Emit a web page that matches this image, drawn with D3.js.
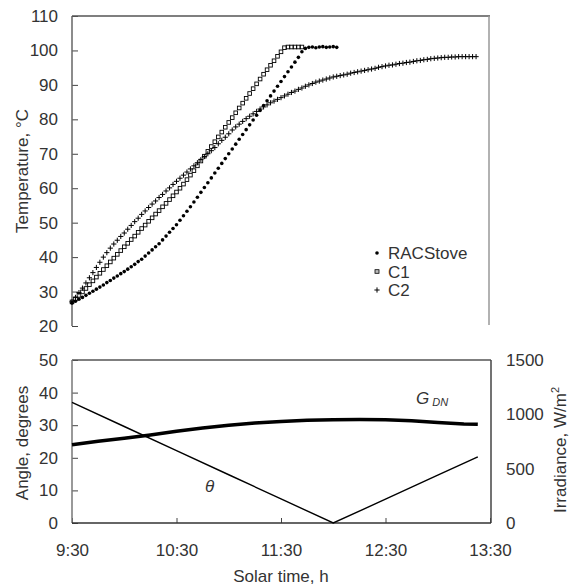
<!DOCTYPE html>
<html>
<head>
<meta charset="utf-8">
<script src="https://cdn.jsdelivr.net/npm/d3@7.9.0/dist/d3.min.js"></script>
<style>
  body { margin: 0; background: #fff; }
  svg text { font-family: "Liberation Sans", Arial, sans-serif; fill: #333; }
</style>
</head>
<body>
<svg id="chart" width="577" height="586"></svg>
<script>
// minutes after 9:30 solar time, one reading every 2 min
const stepMin = 2;
const racStove = [26.7,27.2,27.8,28.3,28.9,29.5,30.1,30.7,31.3,31.9,
  32.6,33.2,33.9,34.5,35.2,35.8,36.5,37.2,37.9,38.7,
  39.4,40.3,41.2,42.1,43.0,43.9,45.0,46.1,47.2,48.3,
  49.4,50.7,52.0,53.3,54.6,56.0,57.4,58.8,60.2,61.6,
  63.0,64.4,65.8,67.2,68.6,70.0,71.4,72.8,74.2,75.6,
  77.0,78.4,79.8,81.2,82.6,84.0,85.4,86.8,88.2,89.6,
  91.0,92.4,93.8,95.2,96.6,98.0,99.6,100.6,100.9,101.0,
  100.8,101.0,101.1,100.9,101.0,101.1,100.9];
const c1 = [27.0,27.9,28.9,29.9,30.9,32.0,33.1,34.2,35.3,36.4,
  37.5,38.6,39.7,40.8,41.9,43.0,44.0,45.1,46.1,47.2,
  48.3,49.3,50.4,51.4,52.5,53.5,54.6,55.6,56.7,57.8,
  58.9,60.0,61.2,62.5,63.8,65.1,66.5,67.9,69.3,70.7,
  72.1,73.5,74.9,76.3,77.7,79.1,80.5,81.9,83.3,84.7,
  86.1,87.5,88.9,90.3,91.7,93.1,94.4,95.7,97.0,98.3,
  99.6,100.8,101.0,101.0,101.0,101.0,101.0];
const c2 = [27.0,28.3,29.7,31.0,32.5,34.0,35.5,37.0,38.5,40.0,
  41.3,42.6,43.8,44.9,46.0,47.0,48.1,49.2,50.3,51.3,
  52.4,53.4,54.4,55.4,56.3,57.3,58.2,59.2,60.1,61.1,
  62.0,62.9,63.8,64.7,65.6,66.5,67.4,68.3,69.2,70.0,
  70.9,71.8,72.9,73.9,74.8,75.8,76.9,77.8,78.6,79.4,
  80.2,80.9,81.6,82.3,83.0,83.6,84.2,84.8,85.3,85.8,
  86.3,86.8,87.3,87.8,88.2,88.7,89.1,89.6,90.0,90.4,
  90.8,91.1,91.4,91.7,92.0,92.3,92.5,92.7,92.9,93.1,
  93.4,93.6,93.8,94.0,94.2,94.4,94.6,94.8,95.1,95.3,
  95.5,95.7,95.8,96.0,96.2,96.3,96.5,96.6,96.8,97.0,
  97.1,97.3,97.4,97.6,97.7,97.8,97.9,98.0,98.0,98.1,
  98.1,98.2,98.2,98.2,98.2,98.2,98.2];

const thetaTimes = [0, 30, 60, 90, 120, 150, 180, 210, 233];
const thetaDeg = [37, 29.6, 22.2, 14.8, 7.4, 0, 7.3, 14.7, 20.3];
const gTimes = [0, 15, 30, 45, 60, 75, 90, 105, 120, 135, 150, 165, 180, 195, 210, 225, 233];
const gDN = [720, 752, 780, 810, 845, 875, 900, 920, 935, 945, 950, 952, 950, 942, 925, 912, 908];

const timeTicks = [0, 60, 120, 180, 240];
const timeLabels = ['9:30', '10:30', '11:30', '12:30', '13:30'];
const tempTicks = [20, 30, 40, 50, 60, 70, 80, 90, 100, 110];
const angleTicks = [0, 10, 20, 30, 40, 50];
const irrTicks = [0, 500, 1000, 1500];
const legendNames = ['RACStove', 'C1', 'C2'];

const svg = d3.select('#chart');
const fs = 17;

const x = d3.scaleLinear().domain([0, 240]).range([72, 490]);
const yT = d3.scaleLinear().domain([20, 110]).range([326, 16]);
const yA = d3.scaleLinear().domain([0, 50]).range([523, 360]);
const yG = d3.scaleLinear().domain([0, 1500]).range([523, 360]);

function styleAxis(g) {
  g.select('.domain').remove();
  g.selectAll('.tick line').attr('stroke', '#444');
  g.selectAll('.tick text').attr('font-size', fs).attr('font-family', null).attr('fill', '#333');
}

// ---- top panel ----
svg.append('g')
  .attr('transform', 'translate(72,0)')
  .call(d3.axisLeft(yT).tickValues(tempTicks).tickSize(-6).tickPadding(14))
  .call(styleAxis);

svg.append('line').attr('x1', 72).attr('x2', 72).attr('y1', 16).attr('y2', 326).attr('stroke', '#666').attr('stroke-width', 1.5);
svg.append('line').attr('x1', 72).attr('x2', 490).attr('y1', 16).attr('y2', 16).attr('stroke', '#555').attr('stroke-width', 1.5);
svg.append('line').attr('x1', 489).attr('x2', 489).attr('y1', 16).attr('y2', 325).attr('stroke', '#999').attr('stroke-width', 1.5);

const plus = 'M-2.6,0H2.6M0,-2.6V2.6';

svg.append('g').selectAll('path')
  .data(c2)
  .join('path')
  .attr('transform', (d, i) => `translate(${x(i * stepMin)},${yT(d)})`)
  .attr('d', plus)
  .attr('stroke', '#000')
  .attr('stroke-width', 1);

svg.append('g').selectAll('rect')
  .data(c1)
  .join('rect')
  .attr('x', (d, i) => x(i * stepMin) - 1.8)
  .attr('y', (d) => yT(d) - 1.8)
  .attr('width', 3.6)
  .attr('height', 3.6)
  .attr('fill', 'none')
  .attr('stroke', '#000')
  .attr('stroke-width', 0.9);

svg.append('g').selectAll('circle')
  .data(racStove)
  .join('circle')
  .attr('cx', (d, i) => x(i * stepMin))
  .attr('cy', (d) => yT(d))
  .attr('r', 1.8)
  .attr('fill', '#000');

// legend
const leg = svg.append('g').attr('transform', 'translate(377,253)');
legendNames.forEach((name, i) => {
  const row = leg.append('g').attr('transform', `translate(0,${i * 18.5})`);
  if (i === 0) row.append('circle').attr('r', 1.8).attr('fill', '#000');
  if (i === 1) row.append('rect').attr('x', -2).attr('y', -1.8).attr('width', 4).attr('height', 3.6)
    .attr('fill', '#bbb').attr('stroke', '#000').attr('stroke-width', 0.8);
  if (i === 2) row.append('path').attr('d', plus).attr('stroke', '#000').attr('stroke-width', 1);
  row.append('text').attr('x', 11).attr('y', 6).attr('font-size', fs).text(name);
});

svg.append('text')
  .attr('transform', 'translate(28,171) rotate(-90)')
  .attr('text-anchor', 'middle')
  .attr('font-size', fs)
  .text('Temperature, °C');

// ---- bottom panel ----
svg.append('g')
  .attr('transform', 'translate(72,0)')
  .call(d3.axisLeft(yA).tickValues(angleTicks).tickSize(-6).tickPadding(14))
  .call(styleAxis);

svg.append('g')
  .attr('transform', 'translate(491,0)')
  .call(d3.axisRight(yG).tickValues(irrTicks).tickFormat(d3.format('d')).tickSize(0).tickPadding(15))
  .call(styleAxis);

svg.append('g')
  .attr('transform', 'translate(0,523)')
  .call(d3.axisBottom(x).tickValues(timeTicks).tickFormat((d, i) => timeLabels[i]).tickSize(-5).tickPadding(21))
  .call(styleAxis);

svg.append('line').attr('x1', 72).attr('x2', 491).attr('y1', 360).attr('y2', 360).attr('stroke', '#555').attr('stroke-width', 1.5);
svg.append('line').attr('x1', 491).attr('x2', 491).attr('y1', 360).attr('y2', 523).attr('stroke', '#444').attr('stroke-width', 1.5);
svg.append('line').attr('x1', 72).attr('x2', 72).attr('y1', 360).attr('y2', 523).attr('stroke', '#777').attr('stroke-width', 1.5);
svg.append('line').attr('x1', 72).attr('x2', 491).attr('y1', 523).attr('y2', 523).attr('stroke', '#333').attr('stroke-width', 1.5);

const gLine = d3.line().x((d, i) => x(gTimes[i])).y((d) => yG(d));
svg.append('path')
  .attr('d', gLine(gDN))
  .attr('fill', 'none')
  .attr('stroke', '#000')
  .attr('stroke-width', 3.5);

const thLine = d3.line().x((d, i) => x(thetaTimes[i])).y((d) => yA(d));
svg.append('path')
  .attr('d', thLine(thetaDeg))
  .attr('fill', 'none')
  .attr('stroke', '#000')
  .attr('stroke-width', 1.4);

const gLab = svg.append('text').attr('x', 416).attr('y', 404).attr('font-size', fs).attr('font-style', 'italic');
gLab.append('tspan').text('G');
gLab.append('tspan').attr('dx', 3).attr('dy', 2).attr('font-size', 11).text('DN');

svg.append('text').attr('x', 205).attr('y', 492).attr('font-size', fs).attr('font-style', 'italic').text('θ');

svg.append('text')
  .attr('transform', 'translate(28,443) rotate(-90)')
  .attr('text-anchor', 'middle')
  .attr('font-size', fs)
  .text('Angle, degrees');

const irr = svg.append('text')
  .attr('transform', 'translate(566,450) rotate(-90)')
  .attr('text-anchor', 'middle')
  .attr('font-size', fs);
irr.append('tspan').text('Irradiance, W/m');
irr.append('tspan').attr('font-size', 11).attr('dy', -7).text('2');

svg.append('text')
  .attr('x', 281)
  .attr('y', 582)
  .attr('text-anchor', 'middle')
  .attr('font-size', fs)
  .text('Solar time, h');
</script>
</body>
</html>
